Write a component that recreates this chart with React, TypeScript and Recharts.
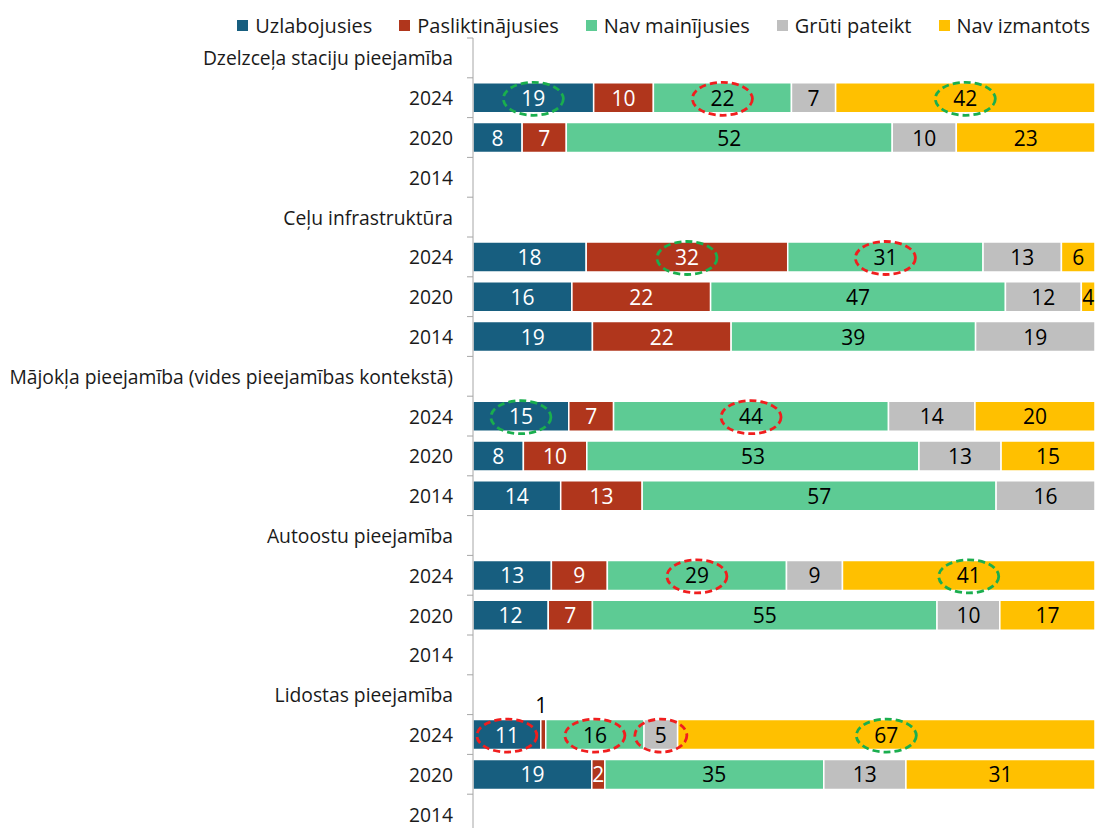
import { BarChart, Bar, XAxis, YAxis, LabelList, Legend } from 'recharts'

const rowLabels = [
  'Dzelzceļa staciju pieejamība', '2024', '2020', '2014',
  'Ceļu infrastruktūra', '2024', '2020', '2014',
  'Mājokļa pieejamība (vides pieejamības kontekstā)', '2024', '2020', '2014',
  'Autoostu pieejamība ', '2024', '2020', '2014',
  'Lidostas pieejamība', '2024', '2020', '2014',
]

const uzlabojusies = [null, 19.4, 7.9, null, null, 18.2, 15.9, 19.2, null, 15.4, 8.1, 14.1, null, 12.6, 12.1, null, null, 10.9, 19.1, null]
const pasliktinajusies = [null, 9.6, 7.1, null, null, 32.4, 22.3, 22.3, null, 7.2, 10.2, 13.1, null, 9.0, 7.1, null, null, 0.8, 2.1, null]
const navMainijusies = [null, 22.2, 52.4, null, null, 31.4, 47.4, 39.3, null, 44.2, 53.4, 56.9, null, 28.8, 55.4, null, null, 15.8, 35.2, null]
const gruti = [null, 7.1, 10.3, null, null, 12.6, 12.2, 19.2, null, 13.9, 13.2, 15.9, null, 9.0, 10.1, null, null, 5.4, 13.2, null]
const navIzmantots = [null, 41.7, 22.6, null, null, 5.5, 4, null, null, 19.6, 15.2, null, null, 40.6, 17, null, null, 67.1, 30.9, null]

// dashed rings drawn round some of the labels
const highlights = [
  { row: 1, key: 'uzl', ring: 'green' }, { row: 1, key: 'nav', ring: 'red' }, { row: 1, key: 'izm', ring: 'green' },
  { row: 5, key: 'pas', ring: 'green' }, { row: 5, key: 'nav', ring: 'red' },
  { row: 9, key: 'uzl', ring: 'green' }, { row: 9, key: 'nav', ring: 'red' },
  { row: 13, key: 'nav', ring: 'red' }, { row: 13, key: 'izm', ring: 'green' },
  { row: 17, key: 'uzl', ring: 'red' }, { row: 17, key: 'nav', ring: 'red' },
  { row: 17, key: 'gru', ring: 'red' }, { row: 17, key: 'izm', ring: 'green' },
]

const series = [
  { key: 'uzl', name: 'Uzlabojusies', color: '#175E7F', text: '#fff' },
  { key: 'pas', name: 'Pasliktinājusies', color: '#B0361C', text: '#fff' },
  { key: 'nav', name: 'Nav mainījusies', color: '#5DCB94', text: '#000' },
  { key: 'gru', name: 'Grūti pateikt', color: '#BFBFBF', text: '#000' },
  { key: 'izm', name: 'Nav izmantots', color: '#FFC000', text: '#000' },
]

const data = rowLabels.map((label, i) => ({
  id: i,
  label,
  uzl: uzlabojusies[i],
  pas: pasliktinajusies[i],
  nav: navMainijusies[i],
  gru: gruti[i],
  izm: navIzmantots[i],
}))

const FONT = '"Open Sans", sans-serif'
const AXIS_X = 473
const TOP = 38
const BOTTOM = 834
const BAND = (BOTTOM - TOP) / rowLabels.length
const RING = { green: '#1AAE4E', red: '#F01E1E' }

function RowTick(props: any) {
  const { y, payload } = props
  const lineY = y - BAND / 2
  return (
    <g>
      <line x1={AXIS_X - 6} x2={AXIS_X} y1={lineY} y2={lineY} stroke="#A6A6A6" />
      <text x={453} y={y} textAnchor="end" dominantBaseline="central" fontFamily={FONT} fontSize={19.3} fill="#1a1a1a">
        {rowLabels[payload.value]}
      </text>
    </g>
  )
}

function makeLabel(key: string, textColor: string) {
  return (props: any) => {
    const { x, y, width, height, value } = props
    if (value == null) return null
    const cx = Number(x) + Number(width) / 2
    const cy = Number(y) + Number(height) / 2
    const row = Math.round((cy - TOP - BAND / 2) / BAND)
    const rounded = Math.round(Number(value))
    if (rounded <= 1) {
      // too thin to hold its number, so it sits above the bar
      return (
        <text x={cx - 2} y={Number(y) - 15} textAnchor="middle" dominantBaseline="central" fontFamily={FONT} fontSize={21} fill="#000">
          {rounded}
        </text>
      )
    }
    const hl = highlights.find((h) => h.row === row && h.key === key)
    return (
      <g>
        {hl && (
          <ellipse
            cx={cx}
            cy={cy + 1}
            rx={rounded < 10 ? 26 : 30}
            ry={16.5}
            fill="none"
            stroke={RING[hl.ring as 'green' | 'red']}
            strokeWidth={2.8}
            strokeDasharray="7 4"
          />
        )}
        <text x={cx} y={cy} textAnchor="middle" dominantBaseline="central" fontFamily={FONT} fontSize={21} fill={textColor}>
          {rounded}
        </text>
      </g>
    )
  }
}

function LegendBox() {
  return (
    <div style={{ display: 'flex', justifyContent: 'flex-end', alignItems: 'center', height: 26, paddingRight: 5, fontFamily: FONT, fontSize: 20, color: '#1a1a1a' }}>
      {series.map((s) => (
        <div key={s.key} style={{ display: 'flex', alignItems: 'center', marginLeft: 27 }}>
          <span style={{ width: 11, height: 11, background: s.color, display: 'inline-block', marginRight: 7 }} />
          <span>{s.name}</span>
        </div>
      ))}
    </div>
  )
}

export default function App() {
  return (
    <div style={{ position: 'fixed', left: 0, top: 0, width: 1095, height: 828, overflow: 'hidden', background: '#fff' }}>
      <BarChart
        width={1095}
        height={BOTTOM}
        data={data}
        layout="vertical"
        margin={{ top: 12, right: 0, bottom: 0, left: 0 }}
        barSize={30}
      >
        <XAxis type="number" domain={[0, 100]} allowDataOverflow hide />
        <YAxis
          type="category"
          dataKey="id"
          width={AXIS_X}
          interval={0}
          tickLine={false}
          axisLine={{ stroke: '#A6A6A6' }}
          tick={<RowTick />}
        />
        <Legend verticalAlign="top" align="right" wrapperStyle={{ top: 12, left: 0, width: 1095 }} content={<LegendBox />} />
        {series.map((s) => (
          <Bar
            key={s.key}
            dataKey={s.key}
            name={s.name}
            stackId="a"
            fill={s.color}
            stroke="#fff"
            strokeWidth={1.5}
            isAnimationActive={false}
          >
            <LabelList dataKey={s.key} content={makeLabel(s.key, s.text)} />
          </Bar>
        ))}
      </BarChart>
    </div>
  )
}
